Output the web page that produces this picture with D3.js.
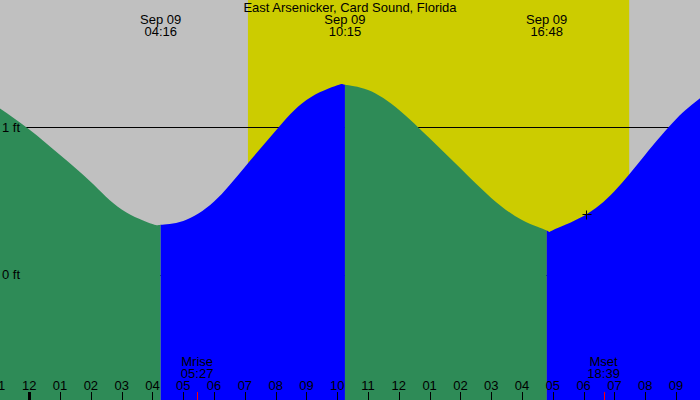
<!DOCTYPE html>
<html>
<head>
<meta charset="utf-8">
<script src="https://cdn.jsdelivr.net/npm/d3@7"></script>
<style>
html,body{margin:0;padding:0;background:#c0c0c0;}
svg{display:block;}
text{font-family:"Liberation Sans",Arial,sans-serif;font-size:13px;fill:#000;}
</style>
</head>
<body>
<svg id="chart" width="700" height="400"></svg>
<script>
// ---- data (hours since midnight Sep 09, tide in feet) ----
const title = "East Arsenicker, Card Sound, Florida";
const hours  = [-1, 0, 1, 2, 3, 4, 4.267, 5, 6, 7, 8, 9, 10, 10.25, 11, 12, 13, 14, 15, 16, 16.8, 17, 18, 19, 20, 21, 21.8];
const tideFt = [1.135, 0.985, 0.812, 0.628, 0.442, 0.343, 0.338, 0.364, 0.496, 0.731, 0.976, 1.185, 1.285, 1.289, 1.253, 1.120, 0.925, 0.721, 0.520, 0.370, 0.299, 0.301, 0.397, 0.565, 0.814, 1.055, 1.200];
const extremeHours  = [4.267, 10.25, 16.8];
const extremeDates  = ["Sep 09", "Sep 09", "Sep 09"];
const extremeTimes  = ["04:16", "10:15", "16:48"];
const sunriseHour = 7.10, sunsetHour = 19.48;
const moonHours  = [5.45, 18.65];
const moonNames  = ["Mrise", "Mset"];
const moonTimes  = ["05:27", "18:39"];
const tickHours  = d3.range(-1, 22);
const tickLabels = ["11","12","01","02","03","04","05","06","07","08","09","10","11","12","01","02","03","04","05","06","07","08","09"];
const levelFt    = [0, 1];
const levelLabels = ["0 ft", "1 ft"];
const markerHour = 18.09, markerFt = 0.41;

// ---- scales ----
const W = 700, H = 400;
const x = d3.scaleLinear().domain([0, 21]).range([29.3, 676]);
const y = d3.scaleLinear().domain([0, 1]).range([274.5, 127.3]);

const svg = d3.select("#chart");
svg.append("rect").attr("width", W).attr("height", H).attr("fill", "#c0c0c0");
svg.append("rect").attr("x", x(sunriseHour)).attr("y", 0)
   .attr("width", x(sunsetHour) - x(sunriseHour)).attr("height", H).attr("fill", "#cccc00");

// level lines (beneath tide fill)
svg.selectAll("line.level").data(levelFt).enter().append("line")
   .attr("x1", 0).attr("x2", W).attr("y1", d => Math.round(y(d)) + 0.5).attr("y2", d => Math.round(y(d)) + 0.5)
   .attr("stroke", "#000").attr("stroke-width", 1);

// tide area, coloured by rising / falling
const pts = hours.map((h, i) => [h, tideFt[i]]);
const area = d3.area().x(d => x(d[0])).y0(H).y1(d => y(d[1])).curve(d3.curveNatural);
const bounds = [x.domain()[0] - 5, ...extremeHours, 30];
const defs = svg.append("defs");
for (let i = 0; i < bounds.length - 1; i++) {
  const x0 = Math.max(-10, x(bounds[i])), x1 = Math.min(W + 10, x(bounds[i + 1]));
  defs.append("clipPath").attr("id", "seg" + i).append("rect")
     .attr("x", x0).attr("y", 0).attr("width", x1 - x0).attr("height", H);
  svg.append("path").datum(pts).attr("d", area)
     .attr("fill", i % 2 === 0 ? "#2e8b57" : "#0000ff")
     .attr("clip-path", "url(#seg" + i + ")");
}

// level labels
svg.selectAll("text.level").data(levelFt).enter().append("text")
   .attr("x", 2).attr("y", d => y(d) + 4.5).text((d, i) => levelLabels[i]);

// hour ticks and labels
svg.selectAll("line.tick").data(tickHours).enter().append("line")
   .attr("x1", d => Math.round(x(d)) + 0.5).attr("x2", d => Math.round(x(d)) + 0.5)
   .attr("y1", 392).attr("y2", H)
   .attr("stroke", "#000").attr("stroke-width", d => d % 24 === 0 ? 3 : 1);
svg.selectAll("text.tick").data(tickHours).enter().append("text")
   .attr("x", d => x(d)).attr("y", 390).attr("text-anchor", "middle")
   .text((d, i) => tickLabels[i]);

// moon rise / set
svg.selectAll("line.moon").data(moonHours).enter().append("line")
   .attr("x1", d => Math.round(x(d)) + 0.5).attr("x2", d => Math.round(x(d)) + 0.5)
   .attr("y1", 392).attr("y2", H).attr("stroke", "#ff0000").attr("stroke-width", 1);
moonHours.forEach((h, i) => {
  svg.append("text").attr("x", x(h)).attr("y", 366).attr("text-anchor", "middle").text(moonNames[i]);
  svg.append("text").attr("x", x(h)).attr("y", 378).attr("text-anchor", "middle").text(moonTimes[i]);
});

// title and extremes
svg.append("text").attr("x", W / 2).attr("y", 12).attr("text-anchor", "middle").text(title);
extremeHours.forEach((h, i) => {
  svg.append("text").attr("x", x(h)).attr("y", 24).attr("text-anchor", "middle").text(extremeDates[i]);
  svg.append("text").attr("x", x(h)).attr("y", 36).attr("text-anchor", "middle").text(extremeTimes[i]);
});

// current-time marker
const mx = Math.round(x(markerHour)) + 0.5, my = Math.round(y(markerFt)) + 0.5;
svg.append("line").attr("x1", mx - 4).attr("x2", mx + 5).attr("y1", my).attr("y2", my).attr("stroke", "#000");
svg.append("line").attr("x1", mx).attr("x2", mx).attr("y1", my - 4).attr("y2", my + 5).attr("stroke", "#000");
</script>
</body>
</html>
